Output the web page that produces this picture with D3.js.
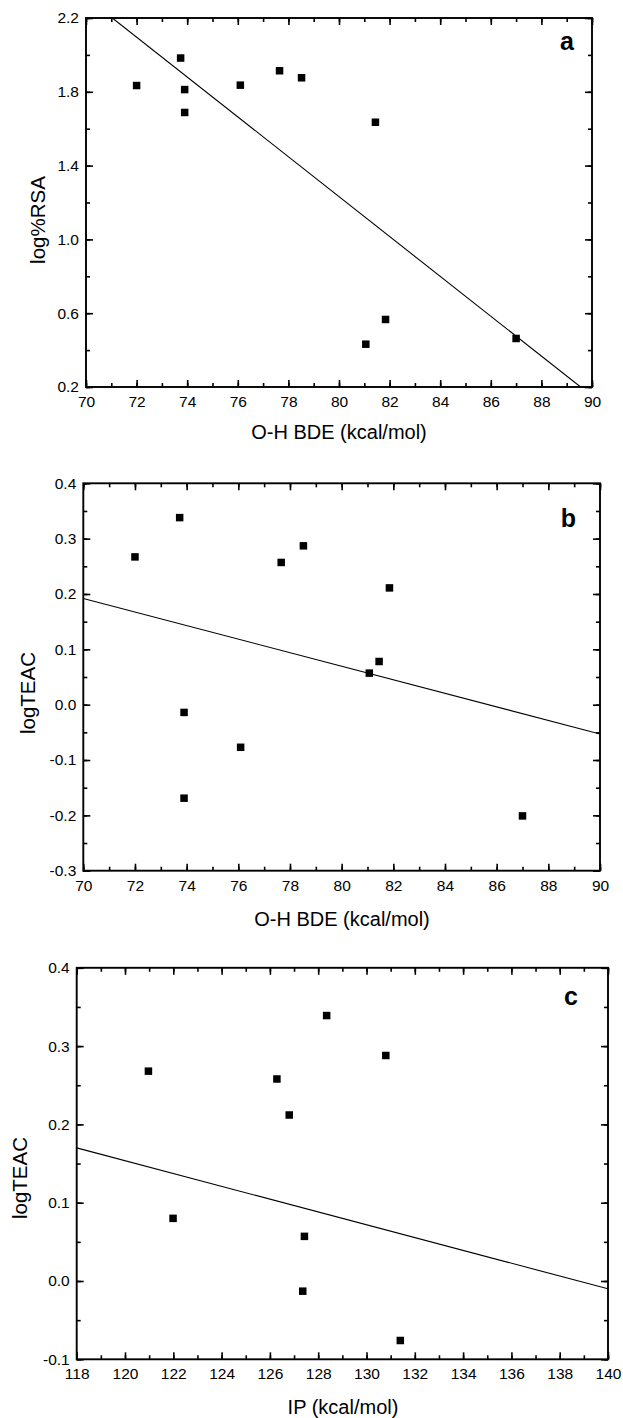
<!DOCTYPE html>
<html>
<head>
  <meta charset="utf-8">
  <script src="https://d3js.org/d3.v7.min.js"></script>
    <style>
      body { margin: 0; background: #fff; }
      svg text { font-family: "Liberation Sans", Arial, sans-serif; fill: #000; }
    </style>
</head>
<body>
<script type="text/javascript">

/*************************************************************************************************/
/* Data */

var bde_x   = [72.0, 73.74, 73.9, 73.9, 76.1, 77.65, 78.52, 81.44, 81.84, 81.06, 87.0];
var rsa_y   = [1.834, 1.983, 1.812, 1.688, 1.836, 1.914, 1.876, 1.635, 0.566, 0.432, 0.463];

var bde_x_b = [72.0, 73.73, 73.9, 73.9, 76.09, 77.66, 78.52, 81.85, 81.45, 81.07, 87.0];
var teac_b  = [0.267, 0.338, -0.014, -0.169, -0.077, 0.257, 0.287, 0.211, 0.078, 0.057, -0.201];

var ip_x    = [120.97, 121.99, 126.29, 126.8, 128.35, 127.43, 127.36, 130.8, 131.4];
var teac_c  = [0.268, 0.080, 0.258, 0.212, 0.339, 0.057, -0.013, 0.288, -0.076];

// fitted lines, end points as drawn
var fit_a = [[71.04, 2.2], [89.55, 0.2]];
var fit_b = [[70, 0.192], [90, -0.053]];
var fit_c = [[118, 0.170], [140, -0.010]];

var ticks_bde   = [70, 72, 74, 76, 78, 80, 82, 84, 86, 88, 90];
var ticks_ip    = [118, 120, 122, 124, 126, 128, 130, 132, 134, 136, 138, 140];
var ticks_rsa   = [0.2, 0.6, 1.0, 1.4, 1.8, 2.2];
var ticks_teac_b = [-0.3, -0.2, -0.1, 0.0, 0.1, 0.2, 0.3, 0.4];
var ticks_teac_c = [-0.1, 0.0, 0.1, 0.2, 0.3, 0.4];

/*************************************************************************************************/

var svg = d3.select("body")
            .append("svg")
            .attr("width", 623)
            .attr("height", 1418);

function range_step(a, b, s) {
    var out = [];
    var n = Math.round((b - a) / s);
    for (var i = 0; i <= n; i++) { out.push(+(a + i * s).toFixed(4)); }
    return out;
}

function draw_panel(p) {

    var x = d3.scaleLinear().domain(p.xdom).range([p.left, p.right]);
    var y = d3.scaleLinear().domain(p.ydom).range([p.bottom, p.top]);

    var g = svg.append("g").attr("class", "panel");

    var fmt_y = function(d) { return d.toFixed(1); };
    var fmt_x = function(d) { return d; };

    var xminor = range_step(p.xdom[0], p.xdom[1], p.xminor);
    var yminor = range_step(p.ydom[0], p.ydom[1], p.yminor);

    // minor ticks on all four sides
    g.append("g").attr("transform", "translate(0," + p.bottom + ")")
     .call(d3.axisBottom(x).tickValues(xminor).tickSize(-4).tickFormat(""));
    g.append("g").attr("transform", "translate(0," + p.top + ")")
     .call(d3.axisTop(x).tickValues(xminor).tickSize(-4).tickFormat(""));
    g.append("g").attr("transform", "translate(" + p.left + ",0)")
     .call(d3.axisLeft(y).tickValues(yminor).tickSize(-4).tickFormat(""));
    g.append("g").attr("transform", "translate(" + p.right + ",0)")
     .call(d3.axisRight(y).tickValues(yminor).tickSize(-4).tickFormat(""));

    // major ticks
    g.append("g").attr("class", "xaxis").attr("transform", "translate(0," + p.bottom + ")")
     .call(d3.axisBottom(x).tickValues(p.xticks).tickSize(-7).tickPadding(9).tickFormat(fmt_x));
    g.append("g").attr("transform", "translate(0," + p.top + ")")
     .call(d3.axisTop(x).tickValues(p.xticks).tickSize(-7).tickFormat(""));
    g.append("g").attr("class", "yaxis").attr("transform", "translate(" + p.left + ",0)")
     .call(d3.axisLeft(y).tickValues(p.yticks).tickSize(-7).tickPadding(7).tickFormat(fmt_y));
    g.append("g").attr("transform", "translate(" + p.right + ",0)")
     .call(d3.axisRight(y).tickValues(p.yticks).tickSize(-7).tickFormat(""));

    g.selectAll(".domain").remove();
    g.selectAll(".tick line").attr("stroke", "#000").attr("stroke-width", 1.6);
    g.selectAll(".tick text")
     .style("font-size", "15.5px")
     .attr("fill", "#000")
     .style("font-family", "'Liberation Sans', Arial, sans-serif");

    // frame
    g.append("rect")
     .attr("x", p.left).attr("y", p.top)
     .attr("width", p.right - p.left).attr("height", p.bottom - p.top)
     .attr("fill", "none").attr("stroke", "#000").attr("stroke-width", 1.9);

    // fit line, clipped to the frame
    var clip_id = "clip_" + p.name;
    g.append("clipPath").attr("id", clip_id)
     .append("rect")
     .attr("x", p.left).attr("y", p.top)
     .attr("width", p.right - p.left).attr("height", p.bottom - p.top);

    g.append("path")
     .datum(p.fit)
     .attr("clip-path", "url(#" + clip_id + ")")
     .attr("d", d3.line().x(function(d) { return x(d[0]); }).y(function(d) { return y(d[1]); }))
     .attr("fill", "none").attr("stroke", "#000").attr("stroke-width", 1.1);

    // points
    var sz = 7.5;
    g.selectAll("rect.pt")
     .data(p.xs)
     .enter()
     .append("rect")
     .attr("class", "pt")
     .attr("x", function(d) { return x(d) - sz / 2; })
     .attr("y", function(d, i) { return y(p.ys[i]) - sz / 2; })
     .attr("width", sz).attr("height", sz)
     .attr("fill", "#000");

    // axis titles
    g.append("text")
     .attr("text-anchor", "middle")
     .attr("x", p.xlab[0]).attr("y", p.xlab[1])
     .style("font-size", "20px")
     .text(p.xtitle);

    g.append("text")
     .attr("text-anchor", "middle")
     .attr("transform", "translate(" + p.ylab[0] + "," + p.ylab[1] + ") rotate(-90)")
     .style("font-size", "20.5px")
     .text(p.ytitle);

    // panel letter
    g.append("text")
     .attr("text-anchor", "end")
     .attr("x", p.letter[0]).attr("y", p.letter[1])
     .style("font-size", "25px")
     .style("font-weight", "bold")
     .text(p.name);
}

draw_panel({
    name: "a", xs: bde_x, ys: rsa_y, fit: fit_a,
    xdom: [70, 90], ydom: [0.2, 2.2], xticks: ticks_bde, yticks: ticks_rsa,
    xminor: 1, yminor: 0.2,
    left: 86, right: 592, top: 18, bottom: 387,
    xtitle: "O-H BDE (kcal/mol)", ytitle: "log%RSA",
    xlab: [339, 439], ylab: [45, 220], letter: [574, 50]
});

draw_panel({
    name: "b", xs: bde_x_b, ys: teac_b, fit: fit_b,
    xdom: [70, 90], ydom: [-0.3, 0.4], xticks: ticks_bde, yticks: ticks_teac_b,
    xminor: 1, yminor: 0.05,
    left: 83.3, right: 600, top: 483.3, bottom: 870.7,
    xtitle: "O-H BDE (kcal/mol)", ytitle: "logTEAC",
    xlab: [342, 926], ylab: [35, 693], letter: [576, 527]
});

draw_panel({
    name: "c", xs: ip_x, ys: teac_c, fit: fit_c,
    xdom: [118, 140], ydom: [-0.1, 0.4], xticks: ticks_ip, yticks: ticks_teac_c,
    xminor: 1, yminor: 0.05,
    left: 76.7, right: 608, top: 967.8, bottom: 1359.3,
    xtitle: "IP (kcal/mol)", ytitle: "logTEAC",
    xlab: [343, 1414], ylab: [27, 1178], letter: [578, 1005]
});

</script>
</body>
</html>
